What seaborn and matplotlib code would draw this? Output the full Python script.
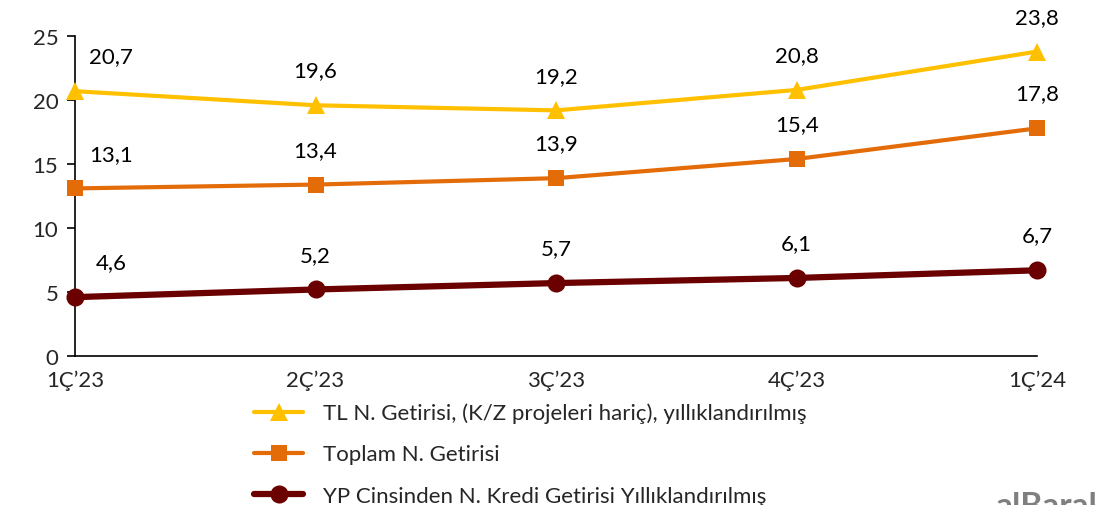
import matplotlib
matplotlib.use("Agg")
import matplotlib.pyplot as plt
import seaborn as sns
import pandas as pd

quarters = ["1Ç\u201923", "2Ç\u201923", "3Ç\u201923", "4Ç\u201923", "1Ç\u201924"]
tl_getiri = [20.7, 19.6, 19.2, 20.8, 23.8]
toplam_getiri = [13.1, 13.4, 13.9, 15.4, 17.8]
yp_getiri = [4.6, 5.2, 5.7, 6.1, 6.7]
series_names = [
    "TL N. Getirisi, (K/Z projeleri hariç), yıllıklandırılmış",
    "Toplam N. Getirisi",
    "YP Cinsinden N. Kredi Getirisi Yıllıklandırılmış",
]
y_ticks = [0, 5, 10, 15, 20, 25]

sns.set_theme(style="white")
plt.rcParams["font.family"] = ["Lato", "DejaVu Sans"]

fig = plt.figure(figsize=(10.96, 5.06), dpi=100)
ax = fig.add_axes([0.0684, 0.2945, 0.878, 0.632])

styles = [
    dict(color="#FFC000", marker="^", markersize=13, linewidth=3),
    dict(color="#E36C09", marker="s", markersize=12, linewidth=3),
    dict(color="#6B0000", marker="o", markersize=13, linewidth=4.5),
]
values = [tl_getiri, toplam_getiri, yp_getiri]

x = list(range(len(quarters)))
for name, vals, st in zip(series_names, values, styles):
    df = pd.DataFrame({"x": x, "y": vals})
    sns.lineplot(data=df, x="x", y="y", ax=ax, color=st["color"], marker=st["marker"],
                 markersize=st["markersize"], linewidth=st["linewidth"],
                 markeredgewidth=0, label=name, legend=False, clip_on=False)
    for i, v in enumerate(vals):
        dx = 26 if i == 0 else 0
        ax.annotate(f"{v:.1f}".replace(".", ","), (i, v), xytext=(dx, 25),
                    textcoords="offset points", ha="center", va="center",
                    fontsize=16, color="black")

ax.set_xlim(0, len(quarters) - 1)
ax.set_ylim(0, 25)
ax.set_yticks(y_ticks)
ax.set_xticks(x)
ax.set_xticklabels(quarters)
ax.set_xlabel("")
ax.set_ylabel("")
for s in ["top", "right"]:
    ax.spines[s].set_visible(False)
for s in ["left", "bottom"]:
    ax.spines[s].set_color("black")
    ax.spines[s].set_linewidth(1.2)
    ax.spines[s].set_zorder(0)
ax.tick_params(axis="y", which="both", left=True, length=6, width=1.2, color="black",
               labelsize=16, pad=6)
ax.tick_params(axis="x", bottom=False, labelsize=16, pad=4)

handles, labels = ax.get_legend_handles_labels()
fig.legend(handles, labels, loc="upper left", bbox_to_anchor=(0.232, 0.202),
           frameon=False, fontsize=16, handlelength=2.2, labelspacing=0.95,
           handletextpad=0.9, borderaxespad=0, borderpad=0)

fig.text(0.908, -0.03, "alBaraka", fontsize=24, fontweight="bold", color="#7F7F7F",
         ha="left", va="bottom")

fig.savefig("out.png", dpi=100)
